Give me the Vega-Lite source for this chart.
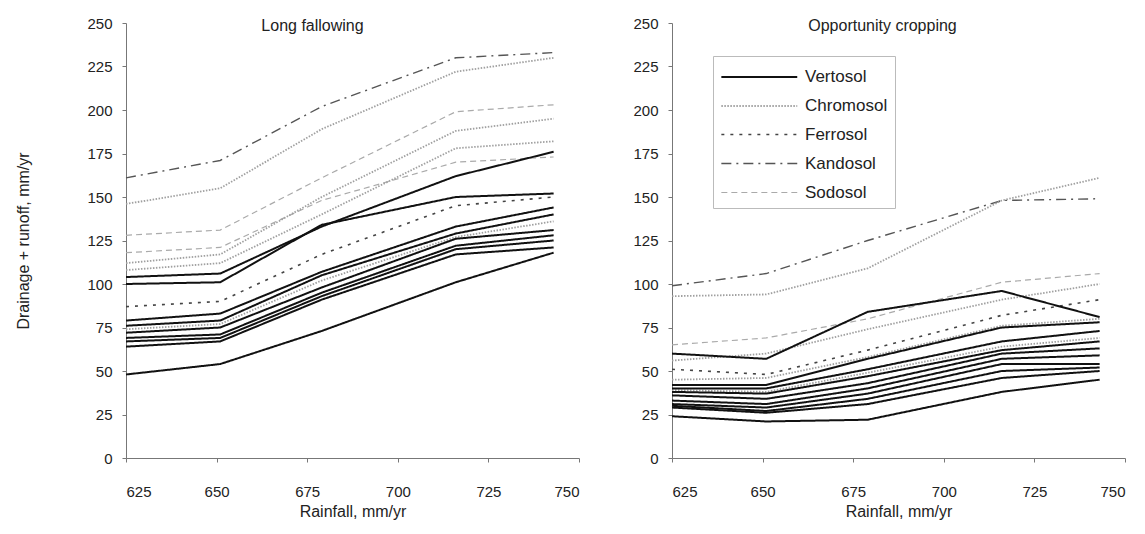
{
  "$schema": "https://vega.github.io/schema/vega-lite/v6.json",
  "background": "white",
  "padding": {"left": 15, "top": 16, "right": 5, "bottom": 5},
  "config": {
    "view": {"stroke": null},
    "font": "Liberation Sans",
    "axis": {"labelFont": "Liberation Sans", "labelFontSize": 15, "labelColor": "#222", "titleFont": "Liberation Sans", "titleFontSize": 16, "titleFontWeight": "normal", "titleColor": "#222", "domainColor": "#777", "tickColor": "#777", "tickSize": 4, "grid": false},
    "axisX": {"labelPadding": 22, "titlePadding": 4},
    "axisY": {"labelPadding": 10, "titlePadding": 55},
    "title": {"font": "Liberation Sans", "fontSize": 16, "fontWeight": "normal", "color": "#222"},
    "legend": {"title": null, "orient": "none", "legendX": 41, "legendY": 33, "symbolType": "M-1,0H5", "symbolSize": 640, "labelFontSize": 17, "labelColor": "#222", "labelFont": "Liberation Sans", "strokeColor": "#bbbbbb", "padding": 7, "rowPadding": 7, "labelOffset": 57}
  },
  "datasets": {
    "d": [
      {"p":"L","id":"L1","s":"Kandosol","x":625,"y":161},{"p":"L","id":"L1","s":"Kandosol","x":651,"y":171},{"p":"L","id":"L1","s":"Kandosol","x":679,"y":202},{"p":"L","id":"L1","s":"Kandosol","x":716,"y":230},{"p":"L","id":"L1","s":"Kandosol","x":743,"y":233},
      {"p":"L","id":"L2","s":"Chromosol","x":625,"y":146},{"p":"L","id":"L2","s":"Chromosol","x":651,"y":155},{"p":"L","id":"L2","s":"Chromosol","x":679,"y":189},{"p":"L","id":"L2","s":"Chromosol","x":716,"y":222},{"p":"L","id":"L2","s":"Chromosol","x":743,"y":230},
      {"p":"L","id":"L3","s":"Sodosol","x":625,"y":128},{"p":"L","id":"L3","s":"Sodosol","x":651,"y":131},{"p":"L","id":"L3","s":"Sodosol","x":679,"y":161},{"p":"L","id":"L3","s":"Sodosol","x":716,"y":199},{"p":"L","id":"L3","s":"Sodosol","x":743,"y":203},
      {"p":"L","id":"L4","s":"Sodosol","x":625,"y":118},{"p":"L","id":"L4","s":"Sodosol","x":651,"y":121},{"p":"L","id":"L4","s":"Sodosol","x":679,"y":148},{"p":"L","id":"L4","s":"Sodosol","x":716,"y":170},{"p":"L","id":"L4","s":"Sodosol","x":743,"y":173},
      {"p":"L","id":"L5","s":"Chromosol","x":625,"y":112},{"p":"L","id":"L5","s":"Chromosol","x":651,"y":117},{"p":"L","id":"L5","s":"Chromosol","x":679,"y":150},{"p":"L","id":"L5","s":"Chromosol","x":716,"y":188},{"p":"L","id":"L5","s":"Chromosol","x":743,"y":195},
      {"p":"L","id":"L6","s":"Chromosol","x":625,"y":108},{"p":"L","id":"L6","s":"Chromosol","x":651,"y":112},{"p":"L","id":"L6","s":"Chromosol","x":679,"y":140},{"p":"L","id":"L6","s":"Chromosol","x":716,"y":178},{"p":"L","id":"L6","s":"Chromosol","x":743,"y":182},
      {"p":"L","id":"L12","s":"Chromosol","x":625,"y":74},{"p":"L","id":"L12","s":"Chromosol","x":651,"y":77},{"p":"L","id":"L12","s":"Chromosol","x":679,"y":102},{"p":"L","id":"L12","s":"Chromosol","x":716,"y":127},{"p":"L","id":"L12","s":"Chromosol","x":743,"y":136},
      {"p":"L","id":"L9","s":"Ferrosol","x":625,"y":87},{"p":"L","id":"L9","s":"Ferrosol","x":651,"y":90},{"p":"L","id":"L9","s":"Ferrosol","x":679,"y":117},{"p":"L","id":"L9","s":"Ferrosol","x":716,"y":145},{"p":"L","id":"L9","s":"Ferrosol","x":743,"y":150},
      {"p":"L","id":"L7","s":"Vertosol","x":625,"y":104},{"p":"L","id":"L7","s":"Vertosol","x":651,"y":106},{"p":"L","id":"L7","s":"Vertosol","x":679,"y":133},{"p":"L","id":"L7","s":"Vertosol","x":716,"y":162},{"p":"L","id":"L7","s":"Vertosol","x":743,"y":176},
      {"p":"L","id":"L8","s":"Vertosol","x":625,"y":100},{"p":"L","id":"L8","s":"Vertosol","x":651,"y":101},{"p":"L","id":"L8","s":"Vertosol","x":679,"y":134},{"p":"L","id":"L8","s":"Vertosol","x":716,"y":150},{"p":"L","id":"L8","s":"Vertosol","x":743,"y":152},
      {"p":"L","id":"L10","s":"Vertosol","x":625,"y":79},{"p":"L","id":"L10","s":"Vertosol","x":651,"y":83},{"p":"L","id":"L10","s":"Vertosol","x":679,"y":107},{"p":"L","id":"L10","s":"Vertosol","x":716,"y":133},{"p":"L","id":"L10","s":"Vertosol","x":743,"y":144},
      {"p":"L","id":"L11","s":"Vertosol","x":625,"y":76},{"p":"L","id":"L11","s":"Vertosol","x":651,"y":79},{"p":"L","id":"L11","s":"Vertosol","x":679,"y":105},{"p":"L","id":"L11","s":"Vertosol","x":716,"y":129},{"p":"L","id":"L11","s":"Vertosol","x":743,"y":140},
      {"p":"L","id":"L13","s":"Vertosol","x":625,"y":72},{"p":"L","id":"L13","s":"Vertosol","x":651,"y":75},{"p":"L","id":"L13","s":"Vertosol","x":679,"y":98},{"p":"L","id":"L13","s":"Vertosol","x":716,"y":126},{"p":"L","id":"L13","s":"Vertosol","x":743,"y":131},
      {"p":"L","id":"L14","s":"Vertosol","x":625,"y":69},{"p":"L","id":"L14","s":"Vertosol","x":651,"y":71},{"p":"L","id":"L14","s":"Vertosol","x":679,"y":95},{"p":"L","id":"L14","s":"Vertosol","x":716,"y":122},{"p":"L","id":"L14","s":"Vertosol","x":743,"y":128},
      {"p":"L","id":"L15","s":"Vertosol","x":625,"y":67},{"p":"L","id":"L15","s":"Vertosol","x":651,"y":69},{"p":"L","id":"L15","s":"Vertosol","x":679,"y":93},{"p":"L","id":"L15","s":"Vertosol","x":716,"y":120},{"p":"L","id":"L15","s":"Vertosol","x":743,"y":125},
      {"p":"L","id":"L16","s":"Vertosol","x":625,"y":64},{"p":"L","id":"L16","s":"Vertosol","x":651,"y":67},{"p":"L","id":"L16","s":"Vertosol","x":679,"y":91},{"p":"L","id":"L16","s":"Vertosol","x":716,"y":117},{"p":"L","id":"L16","s":"Vertosol","x":743,"y":121},
      {"p":"L","id":"L17","s":"Vertosol","x":625,"y":48},{"p":"L","id":"L17","s":"Vertosol","x":651,"y":54},{"p":"L","id":"L17","s":"Vertosol","x":679,"y":73},{"p":"L","id":"L17","s":"Vertosol","x":716,"y":101},{"p":"L","id":"L17","s":"Vertosol","x":743,"y":118},

      {"p":"R","id":"R1","s":"Kandosol","x":625,"y":99},{"p":"R","id":"R1","s":"Kandosol","x":651,"y":106},{"p":"R","id":"R1","s":"Kandosol","x":679,"y":125},{"p":"R","id":"R1","s":"Kandosol","x":716,"y":148},{"p":"R","id":"R1","s":"Kandosol","x":743,"y":149},
      {"p":"R","id":"R2","s":"Chromosol","x":625,"y":93},{"p":"R","id":"R2","s":"Chromosol","x":651,"y":94},{"p":"R","id":"R2","s":"Chromosol","x":679,"y":109},{"p":"R","id":"R2","s":"Chromosol","x":716,"y":148},{"p":"R","id":"R2","s":"Chromosol","x":743,"y":161},
      {"p":"R","id":"R3","s":"Sodosol","x":625,"y":65},{"p":"R","id":"R3","s":"Sodosol","x":651,"y":69},{"p":"R","id":"R3","s":"Sodosol","x":679,"y":80},{"p":"R","id":"R3","s":"Sodosol","x":716,"y":101},{"p":"R","id":"R3","s":"Sodosol","x":743,"y":106},
      {"p":"R","id":"R5","s":"Chromosol","x":625,"y":56},{"p":"R","id":"R5","s":"Chromosol","x":651,"y":60},{"p":"R","id":"R5","s":"Chromosol","x":679,"y":74},{"p":"R","id":"R5","s":"Chromosol","x":716,"y":91},{"p":"R","id":"R5","s":"Chromosol","x":743,"y":100},
      {"p":"R","id":"R6","s":"Ferrosol","x":625,"y":51},{"p":"R","id":"R6","s":"Ferrosol","x":651,"y":48},{"p":"R","id":"R6","s":"Ferrosol","x":679,"y":62},{"p":"R","id":"R6","s":"Ferrosol","x":716,"y":82},{"p":"R","id":"R6","s":"Ferrosol","x":743,"y":91},
      {"p":"R","id":"R7","s":"Chromosol","x":625,"y":45},{"p":"R","id":"R7","s":"Chromosol","x":651,"y":46},{"p":"R","id":"R7","s":"Chromosol","x":679,"y":58},{"p":"R","id":"R7","s":"Chromosol","x":716,"y":76},{"p":"R","id":"R7","s":"Chromosol","x":743,"y":80},
      {"p":"R","id":"R10","s":"Chromosol","x":625,"y":39},{"p":"R","id":"R10","s":"Chromosol","x":651,"y":38},{"p":"R","id":"R10","s":"Chromosol","x":679,"y":49},{"p":"R","id":"R10","s":"Chromosol","x":716,"y":64},{"p":"R","id":"R10","s":"Chromosol","x":743,"y":69},
      {"p":"R","id":"R4","s":"Vertosol","x":625,"y":60},{"p":"R","id":"R4","s":"Vertosol","x":651,"y":57},{"p":"R","id":"R4","s":"Vertosol","x":679,"y":84},{"p":"R","id":"R4","s":"Vertosol","x":716,"y":96},{"p":"R","id":"R4","s":"Vertosol","x":743,"y":81},
      {"p":"R","id":"R8","s":"Vertosol","x":625,"y":42},{"p":"R","id":"R8","s":"Vertosol","x":651,"y":42},{"p":"R","id":"R8","s":"Vertosol","x":679,"y":57},{"p":"R","id":"R8","s":"Vertosol","x":716,"y":75},{"p":"R","id":"R8","s":"Vertosol","x":743,"y":78},
      {"p":"R","id":"R9","s":"Vertosol","x":625,"y":40},{"p":"R","id":"R9","s":"Vertosol","x":651,"y":40},{"p":"R","id":"R9","s":"Vertosol","x":679,"y":51},{"p":"R","id":"R9","s":"Vertosol","x":716,"y":67},{"p":"R","id":"R9","s":"Vertosol","x":743,"y":73},
      {"p":"R","id":"R11","s":"Vertosol","x":625,"y":38},{"p":"R","id":"R11","s":"Vertosol","x":651,"y":37},{"p":"R","id":"R11","s":"Vertosol","x":679,"y":47},{"p":"R","id":"R11","s":"Vertosol","x":716,"y":62},{"p":"R","id":"R11","s":"Vertosol","x":743,"y":67},
      {"p":"R","id":"R12","s":"Vertosol","x":625,"y":36},{"p":"R","id":"R12","s":"Vertosol","x":651,"y":34},{"p":"R","id":"R12","s":"Vertosol","x":679,"y":43},{"p":"R","id":"R12","s":"Vertosol","x":716,"y":60},{"p":"R","id":"R12","s":"Vertosol","x":743,"y":63},
      {"p":"R","id":"R13","s":"Vertosol","x":625,"y":33},{"p":"R","id":"R13","s":"Vertosol","x":651,"y":31},{"p":"R","id":"R13","s":"Vertosol","x":679,"y":40},{"p":"R","id":"R13","s":"Vertosol","x":716,"y":57},{"p":"R","id":"R13","s":"Vertosol","x":743,"y":59},
      {"p":"R","id":"R14","s":"Vertosol","x":625,"y":31},{"p":"R","id":"R14","s":"Vertosol","x":651,"y":29},{"p":"R","id":"R14","s":"Vertosol","x":679,"y":37},{"p":"R","id":"R14","s":"Vertosol","x":716,"y":54},{"p":"R","id":"R14","s":"Vertosol","x":743,"y":54},
      {"p":"R","id":"R15","s":"Vertosol","x":625,"y":30},{"p":"R","id":"R15","s":"Vertosol","x":651,"y":27},{"p":"R","id":"R15","s":"Vertosol","x":679,"y":34},{"p":"R","id":"R15","s":"Vertosol","x":716,"y":50},{"p":"R","id":"R15","s":"Vertosol","x":743,"y":52},
      {"p":"R","id":"R16","s":"Vertosol","x":625,"y":29},{"p":"R","id":"R16","s":"Vertosol","x":651,"y":26},{"p":"R","id":"R16","s":"Vertosol","x":679,"y":31},{"p":"R","id":"R16","s":"Vertosol","x":716,"y":46},{"p":"R","id":"R16","s":"Vertosol","x":743,"y":50},
      {"p":"R","id":"R17","s":"Vertosol","x":625,"y":24},{"p":"R","id":"R17","s":"Vertosol","x":651,"y":21},{"p":"R","id":"R17","s":"Vertosol","x":679,"y":22},{"p":"R","id":"R17","s":"Vertosol","x":716,"y":38},{"p":"R","id":"R17","s":"Vertosol","x":743,"y":45}
    ]
  },
  "spacing": 52,
  "resolve": {"legend": {"color": "independent", "strokeDash": "independent", "strokeWidth": "independent"}},
  "hconcat": [
    {
      "width": 453,
      "height": 435,
      "data": {"name": "d"},
      "transform": [{"filter": "datum.p == 'L'"}],
      "title": {"text": "Long fallowing", "anchor": "middle", "baseline": "middle", "offset": -26, "dx": -40},
      "mark": {"type": "line"},
      "encoding": {
        "x": {"field": "x", "type": "quantitative", "scale": {"domain": [625, 750], "nice": false}, "axis": {"values": [625, 650, 675, 700, 725, 750], "title": "Rainfall, mm/yr"}},
        "y": {"field": "y", "type": "quantitative", "scale": {"domain": [0, 250], "nice": false}, "axis": {"values": [0, 25, 50, 75, 100, 125, 150, 175, 200, 225, 250], "title": "Drainage + runoff, mm/yr"}},
        "detail": {"field": "id"},
        "color": {"field": "s", "type": "nominal", "scale": {"domain": ["Vertosol", "Chromosol", "Ferrosol", "Kandosol", "Sodosol"], "range": ["#111111", "#a0a0a0", "#444444", "#555555", "#aaaaaa"]}, "legend": null},
        "strokeDash": {"field": "s", "type": "nominal", "scale": {"domain": ["Vertosol", "Chromosol", "Ferrosol", "Kandosol", "Sodosol"], "range": [[1, 0], [1.5, 1.5], [3, 6], [10, 5, 2, 5], [6, 4]]}, "legend": null},
        "strokeWidth": {"field": "s", "type": "nominal", "scale": {"domain": ["Vertosol", "Chromosol", "Ferrosol", "Kandosol", "Sodosol"], "range": [2, 1.2, 1.5, 1.5, 1.2]}, "legend": null}
      }
    },
    {
      "width": 453,
      "height": 435,
      "data": {"name": "d"},
      "transform": [{"filter": "datum.p == 'R'"}],
      "title": {"text": "Opportunity cropping", "anchor": "middle", "baseline": "middle", "offset": -26, "dx": -16},
      "mark": {"type": "line"},
      "encoding": {
        "x": {"field": "x", "type": "quantitative", "scale": {"domain": [625, 750], "nice": false}, "axis": {"values": [625, 650, 675, 700, 725, 750], "title": "Rainfall, mm/yr"}},
        "y": {"field": "y", "type": "quantitative", "scale": {"domain": [0, 250], "nice": false}, "axis": {"values": [0, 25, 50, 75, 100, 125, 150, 175, 200, 225, 250], "title": null}},
        "detail": {"field": "id"},
        "color": {"field": "s", "type": "nominal", "scale": {"domain": ["Vertosol", "Chromosol", "Ferrosol", "Kandosol", "Sodosol"], "range": ["#111111", "#a0a0a0", "#444444", "#555555", "#aaaaaa"]}},
        "strokeDash": {"field": "s", "type": "nominal", "scale": {"domain": ["Vertosol", "Chromosol", "Ferrosol", "Kandosol", "Sodosol"], "range": [[1, 0], [1.5, 1.5], [3, 6], [10, 5, 2, 5], [6, 4]]}},
        "strokeWidth": {"field": "s", "type": "nominal", "scale": {"domain": ["Vertosol", "Chromosol", "Ferrosol", "Kandosol", "Sodosol"], "range": [2, 1.2, 1.5, 1.5, 1.2]}}
      }
    }
  ]
}
